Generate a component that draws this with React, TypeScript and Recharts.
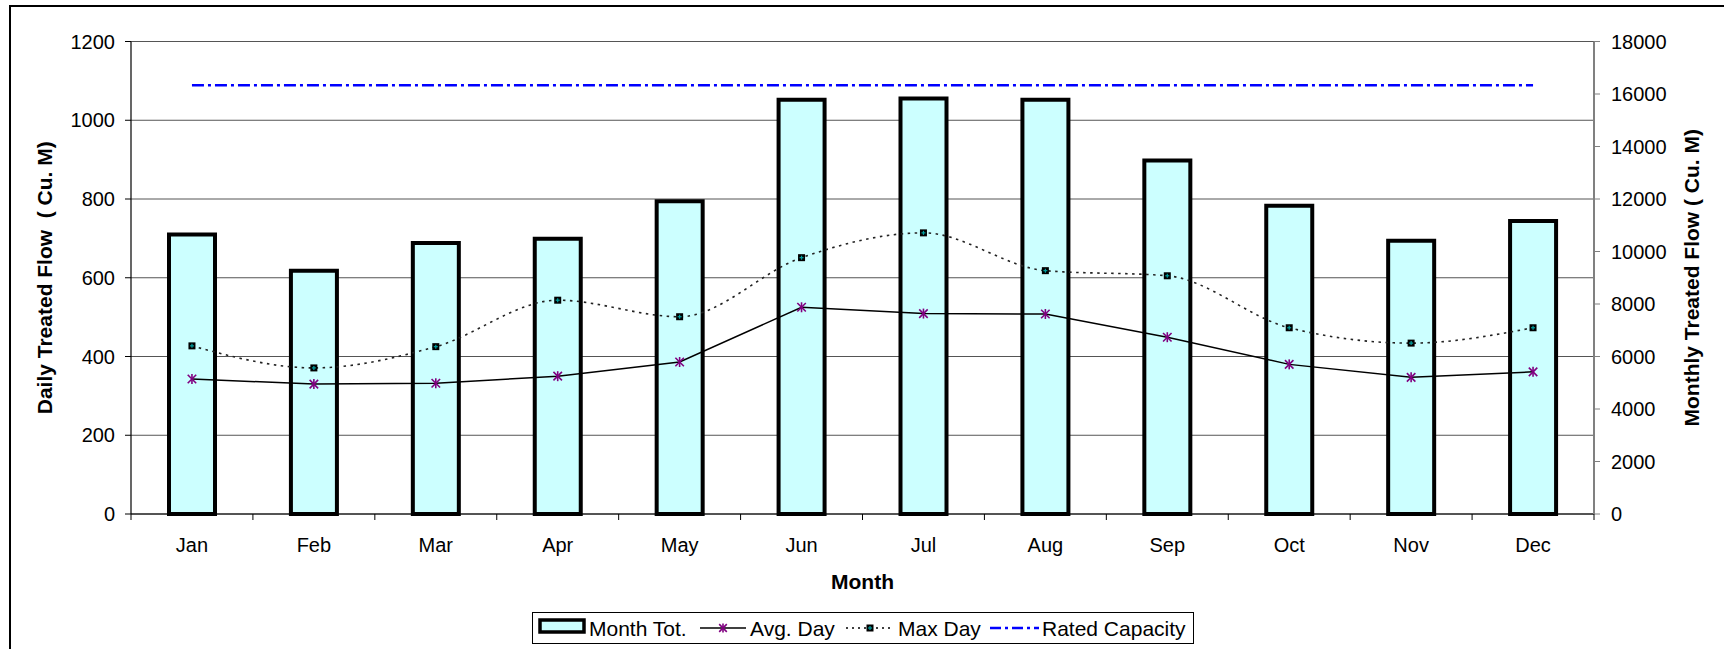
import React from 'react'
import {
  ComposedChart,
  Bar,
  Line,
  XAxis,
  YAxis,
  CartesianGrid,
  Legend,
} from 'recharts'

const months = ['Jan', 'Feb', 'Mar', 'Apr', 'May', 'Jun', 'Jul', 'Aug', 'Sep', 'Oct', 'Nov', 'Dec']
const monthTotal = [10650, 9270, 10320, 10485, 11910, 15780, 15825, 15780, 13470, 11745, 10410, 11160]
const avgDay = [343, 330, 332, 350, 386, 525, 509, 508, 449, 380, 347, 361]
const maxDay = [427, 371, 425, 543, 501, 651, 714, 618, 605, 473, 434, 473]
const ratedCapacity = [1089, 1089, 1089, 1089, 1089, 1089, 1089, 1089, 1089, 1089, 1089, 1089]

const leftTicks = [0, 200, 400, 600, 800, 1000, 1200]
const rightTicks = [0, 2000, 4000, 6000, 8000, 10000, 12000, 14000, 16000, 18000]

const FONT = '"Liberation Sans", Arial, sans-serif'

const data = months.map((m, i) => ({
  month: m,
  monthTotal: monthTotal[i],
  avgDay: avgDay[i],
  maxDay: maxDay[i],
  rated: ratedCapacity[i],
}))

function Asterisk({ cx, cy, size = 5 }: { cx: number; cy: number; size?: number }) {
  const d = size * 0.85
  return (
    <g stroke="#800080" strokeWidth={1.6}>
      <line x1={cx} y1={cy - size} x2={cx} y2={cy + size} />
      <line x1={cx - d} y1={cy - d} x2={cx + d} y2={cy + d} />
      <line x1={cx - d} y1={cy + d} x2={cx + d} y2={cy - d} />
    </g>
  )
}

function SquareMark({ cx, cy }: { cx: number; cy: number }) {
  return (
    <g>
      <rect x={cx - 3.5} y={cy - 3.5} width={7} height={7} fill="#000" />
      <line x1={cx - 2} y1={cy} x2={cx + 2} y2={cy} stroke="#00a0a0" strokeWidth={1.2} />
      <line x1={cx} y1={cy - 2} x2={cx} y2={cy + 2} stroke="#00a0a0" strokeWidth={1.2} />
    </g>
  )
}

const AvgDot = (props: any) => {
  if (props.cx == null || props.cy == null) return null
  return <Asterisk key={`a-${props.index}`} cx={props.cx} cy={props.cy} />
}

const MaxDot = (props: any) => {
  if (props.cx == null || props.cy == null) return null
  return <SquareMark key={`m-${props.index}`} cx={props.cx} cy={props.cy} />
}

// category label plus tick marks on the band boundaries
const MonthTick = (props: any) => {
  const { x, y, payload, index } = props
  const half = payload?.offset || (props.width || 1463) / 24
  return (
    <g>
      <line x1={x + half} y1={y} x2={x + half} y2={y + 6} stroke="#000" />
      {index === 0 && <line x1={x - half} y1={y} x2={x - half} y2={y + 6} stroke="#000" />}
      <text x={x} y={y + 38} textAnchor="middle" fontSize={20} fontFamily={FONT} fill="#000">
        {payload.value}
      </text>
    </g>
  )
}

const LeftTitle = (props: any) => {
  const vb = props.viewBox || {}
  const cx = 44.5
  const cy = vb.y + vb.height / 2
  return (
    <text
      x={cx}
      y={cy}
      transform={`rotate(-90 ${cx} ${cy})`}
      textAnchor="middle"
      dominantBaseline="central"
      fontSize={21}
      fontWeight="bold"
      fontFamily={FONT}
      fill="#000"
      style={{ whiteSpace: 'pre' }}
    >
      {'Daily Treated Flow  ( Cu. M)'}
    </text>
  )
}

const RightTitle = (props: any) => {
  const vb = props.viewBox || {}
  const cx = vb.x + 97
  const cy = vb.y + vb.height / 2
  return (
    <text
      x={cx}
      y={cy}
      transform={`rotate(-90 ${cx} ${cy})`}
      textAnchor="middle"
      dominantBaseline="central"
      fontSize={21}
      fontWeight="bold"
      fontFamily={FONT}
      fill="#000"
    >
      Monthly Treated Flow ( Cu. M)
    </text>
  )
}

const BottomTitle = (props: any) => {
  const vb = props.viewBox || {}
  return (
    <text
      x={vb.x + vb.width / 2}
      y={vb.y + 75}
      textAnchor="middle"
      fontSize={21}
      fontWeight="bold"
      fontFamily={FONT}
      fill="#000"
    >
      Month
    </text>
  )
}

const renderLegend = () => (
  <svg width={662} height={32} style={{ display: 'block' }}>
    <rect x={0.5} y={0.5} width={661} height={31} fill="#fff" stroke="#000" />
    <g fontFamily={FONT} fontSize={21} fill="#000">
      <rect x={8} y={8} width={44} height={12} fill="#CCFFFF" stroke="#000" strokeWidth={3.5} />
      <text x={57} y={23.5}>Month Tot.</text>

      <line x1={168} y1={16} x2={214} y2={16} stroke="#000" strokeWidth={1.5} />
      <Asterisk cx={191} cy={16} size={4.5} />
      <text x={218} y={23.5}>Avg. Day</text>

      <line x1={314} y1={16} x2={360} y2={16} stroke="#000" strokeWidth={1.5} strokeDasharray="2 4" />
      <SquareMark cx={338} cy={16} />
      <text x={366} y={23.5}>Max Day</text>

      <line x1={458} y1={16} x2={507} y2={16} stroke="#0000ff" strokeWidth={2.5} strokeDasharray="11 4 3 4" />
      <text x={510} y={23.5}>Rated Capacity</text>
    </g>
  </svg>
)

export default function App() {
  return (
    <div
      style={{
        position: 'absolute',
        left: 0,
        top: 0,
        width: 1724,
        height: 649,
        overflow: 'hidden',
        background: '#fff',
      }}
    >
      <div
        style={{
          position: 'absolute',
          left: 9,
          top: 5,
          width: 1740,
          height: 700,
          border: '2px solid #000',
        }}
      />
      <div style={{ position: 'absolute', left: 0, top: 0 }}>
        <ComposedChart
          width={1724}
          height={649}
          data={data}
          margin={{ top: 41.5, right: 0, bottom: 0, left: 0 }}
        >
          <CartesianGrid vertical={false} stroke="#555" strokeWidth={1} yAxisId="left" />
          <XAxis
            dataKey="month"
            height={135}
            tickSize={0}
            tickMargin={0}
            tickLine={false}
            tick={<MonthTick />}
            axisLine={{ stroke: '#000', strokeWidth: 1.2 }}
            interval={0}
            label={<BottomTitle />}
          />
          <YAxis
            yAxisId="left"
            width={131}
            domain={[0, 1200]}
            ticks={leftTicks}
            interval={0}
            tickSize={6}
            tickMargin={10}
            tick={{ fontSize: 20, fontFamily: FONT, fill: '#000' }}
            axisLine={{ stroke: '#000', strokeWidth: 1.2 }}
            tickLine={{ stroke: '#000' }}
            label={<LeftTitle />}
          />
          <YAxis
            yAxisId="right"
            orientation="right"
            width={130}
            domain={[0, 18000]}
            ticks={rightTicks}
            interval={0}
            tickSize={6}
            tickMargin={11}
            tick={{ fontSize: 20, fontFamily: FONT, fill: '#000' }}
            axisLine={{ stroke: '#808080', strokeWidth: 2 }}
            tickLine={{ stroke: '#808080' }}
            label={<RightTitle />}
          />
          <Bar
            yAxisId="right"
            dataKey="monthTotal"
            name="Month Tot."
            fill="#CCFFFF"
            stroke="#000"
            strokeWidth={4}
            barSize={46}
            isAnimationActive={false}
          />
          <Line
            yAxisId="left"
            dataKey="avgDay"
            name="Avg. Day"
            type="linear"
            stroke="#000"
            strokeWidth={1.5}
            dot={AvgDot}
            activeDot={false}
            isAnimationActive={false}
          />
          <Line
            yAxisId="left"
            dataKey="maxDay"
            name="Max Day"
            type="monotone"
            stroke="#222"
            strokeWidth={1.6}
            strokeDasharray="2.5 4.5"
            dot={MaxDot}
            activeDot={false}
            isAnimationActive={false}
          />
          <Line
            yAxisId="left"
            dataKey="rated"
            name="Rated Capacity"
            type="linear"
            stroke="#0000ff"
            strokeWidth={2.6}
            strokeDasharray="12 4 3 4"
            dot={false}
            activeDot={false}
            isAnimationActive={false}
          />
          <Legend
            layout="horizontal"
            verticalAlign="middle"
            align="center"
            content={renderLegend}
            wrapperStyle={{ left: 532, top: 612, width: 662, height: 32 }}
          />
        </ComposedChart>
      </div>
    </div>
  )
}
